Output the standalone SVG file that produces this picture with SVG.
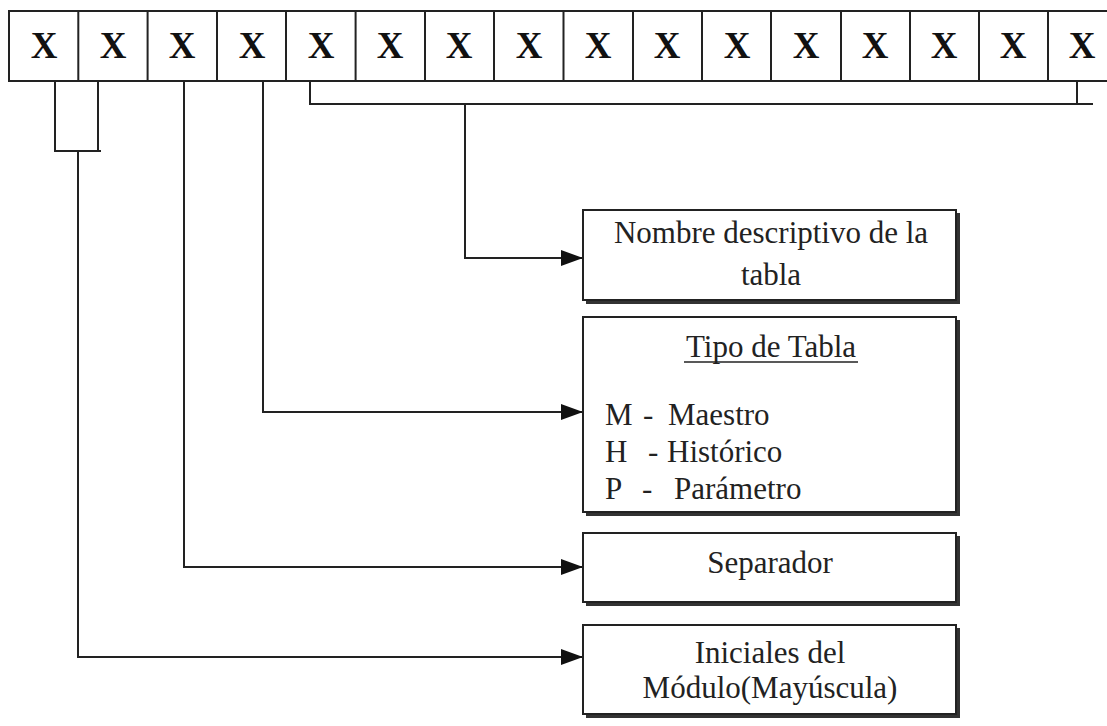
<svg xmlns="http://www.w3.org/2000/svg" width="1107" height="726" viewBox="0 0 1107 726">
<style>
.cell{fill:#fff;stroke:#222;stroke-width:2}
.x{font-family:"Liberation Serif",serif;font-weight:bold;font-size:37px;fill:#111;text-anchor:middle}
.box{fill:#fff;stroke:#222;stroke-width:2}
.sh{fill:#333}
.t{font-family:"Liberation Serif",serif;font-size:31px;fill:#222}
.c{text-anchor:middle}
.ln{fill:none;stroke:#222;stroke-width:2}
</style>
<defs>
<marker id="ar" markerWidth="22" markerHeight="16" refX="22" refY="8" orient="auto" markerUnits="userSpaceOnUse">
<path d="M0,0 L22,8 L0,16 Z" fill="#111"/>
</marker>
</defs>
<rect width="1107" height="726" fill="#fff"/>
<g id="cells">
<rect class="cell" x="9" y="11" width="1110" height="70"/>
<g class="ln">
<path d="M78.3,11V81M147.6,11V81M217,11V81M286,11V81M355.6,11V81M425,11V81M494,11V81M563.5,11V81M633,11V81M702,11V81M771,11V81M841,11V81M910,11V81M979,11V81M1048,11V81"/>
</g>
<text class="x" x="44" y="58">X</text>
<text class="x" x="113" y="58">X</text>
<text class="x" x="182" y="58">X</text>
<text class="x" x="252" y="58">X</text>
<text class="x" x="321" y="58">X</text>
<text class="x" x="390" y="58">X</text>
<text class="x" x="459" y="58">X</text>
<text class="x" x="529" y="58">X</text>
<text class="x" x="598" y="58">X</text>
<text class="x" x="667" y="58">X</text>
<text class="x" x="737" y="58">X</text>
<text class="x" x="806" y="58">X</text>
<text class="x" x="875" y="58">X</text>
<text class="x" x="944" y="58">X</text>
<text class="x" x="1013" y="58">X</text>
<text class="x" x="1082" y="58">X</text>
</g>
<g id="connectors">
<path class="ln" d="M55,81V151H101M98,81V151"/>
<path class="ln" d="M78,151V657H583" marker-end="url(#ar)"/>
<path class="ln" d="M184,81V567H583" marker-end="url(#ar)"/>
<path class="ln" d="M263,81V412H583" marker-end="url(#ar)"/>
<path class="ln" d="M310,81V104H1093M1077,81V104"/>
<path class="ln" d="M465,104V258H583" marker-end="url(#ar)"/>
</g>
<g id="nombre">
<rect class="sh" x="586" y="213" width="374" height="91"/>
<rect class="box" x="583" y="210" width="373" height="90"/>
<text class="t c" x="771" y="243">Nombre descriptivo de la</text>
<text class="t c" x="771" y="285">tabla</text>
</g>
<g id="tipo">
<rect class="sh" x="586" y="320" width="374" height="196"/>
<rect class="box" x="583" y="317" width="373" height="195"/>
<text class="t c" x="771" y="357">Tipo de Tabla</text>
<line x1="684" y1="362" x2="858" y2="362" stroke="#222" stroke-width="1.6"/>
<text class="t" x="605" y="425">M</text><text class="t" x="643" y="425">-</text><text class="t" x="668" y="425">Maestro</text>
<text class="t" x="605" y="462">H</text><text class="t" x="648" y="462">-</text><text class="t" x="667" y="462">Histórico</text>
<text class="t" x="605" y="499">P</text><text class="t" x="642" y="499">-</text><text class="t" x="674" y="499">Parámetro</text>
</g>
<g id="separador">
<rect class="sh" x="586" y="536" width="374" height="70"/>
<rect class="box" x="583" y="533" width="373" height="69"/>
<text class="t c" x="770" y="573">Separador</text>
</g>
<g id="iniciales">
<rect class="sh" x="586" y="628" width="374" height="90"/>
<rect class="box" x="583" y="625" width="373" height="89"/>
<text class="t c" x="770" y="663">Iniciales del</text>
<text class="t c" x="770" y="698">Módulo(Mayúscula)</text>
</g>
</svg>
